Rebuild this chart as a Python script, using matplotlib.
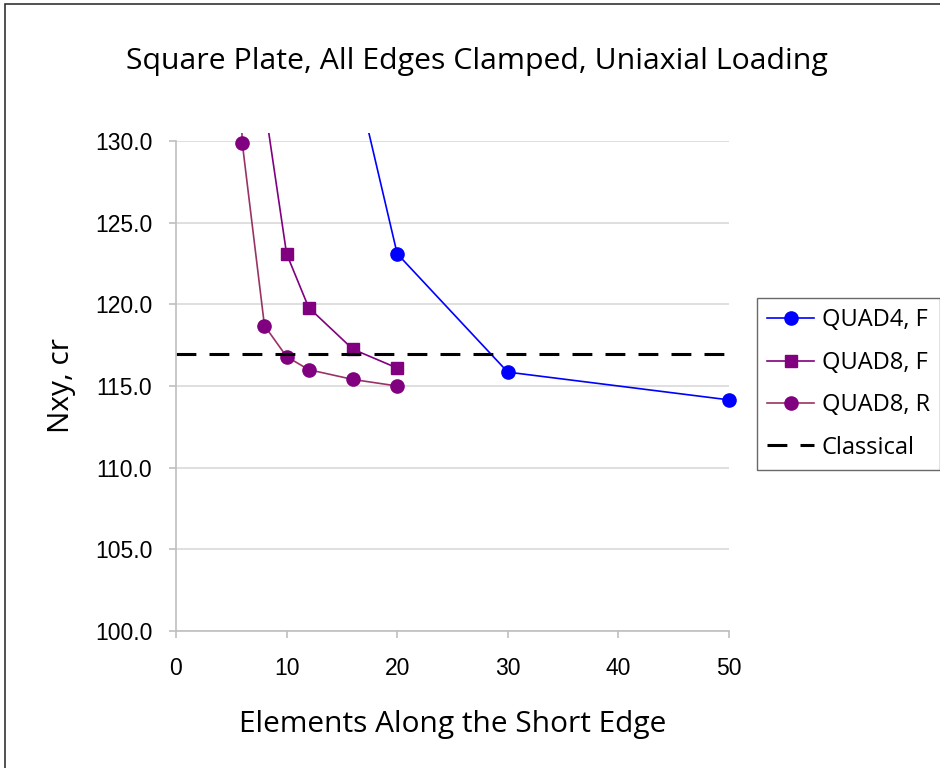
import matplotlib.pyplot as plt
from matplotlib.patches import Rectangle

# data
quad4_f_x = [10, 20, 30, 50]
quad4_f_y = [152.0, 123.1, 115.85, 114.15]

quad8_f_x = [6, 10, 12, 16, 20]
quad8_f_y = [141.5, 123.1, 119.8, 117.25, 116.1]

quad8_r_x = [4, 6, 8, 10, 12, 16, 20]
quad8_r_y = [165.0, 129.85, 118.7, 116.8, 116.0, 115.4, 115.0]

classical_x = [0, 50]
classical_y = [116.95, 116.95]

yticks = [100, 105, 110, 115, 120, 125, 130]
xticks = [0, 10, 20, 30, 40, 50]

fig = plt.figure(figsize=(9.4, 7.68), dpi=100)
ax = fig.add_axes([0.1872, 0.1784, 0.5883, 0.638])

# outer chart border (Excel chart area)
fig.patches.append(Rectangle((5/940, -0.01), 1.1, 1 - 4/768 + 0.01, transform=fig.transFigure,
                             fill=False, edgecolor='#333333', linewidth=1.2))

clip = Rectangle((-1, 99), 60, 31.5, transform=ax.transData)

l1, = ax.plot(quad4_f_x, quad4_f_y, color='#0000FF', lw=1.2, marker='o', ms=9.5,
              mfc='#0000FF', mec='#0000FF', label='QUAD4, F')
l2, = ax.plot(quad8_f_x, quad8_f_y, color='#800080', lw=1.2, marker='s', ms=8.5,
              mfc='#800080', mec='#800080', label='QUAD8, F')
l3, = ax.plot(quad8_r_x, quad8_r_y, color='#993366', lw=1.2, marker='o', ms=9.5,
              mfc='#800080', mec='#800080', label='QUAD8, R')
l4, = ax.plot(classical_x, classical_y, color='black', lw=2.2, dashes=(6.5, 4.3),
              label='Classical')
for ln in (l1, l2, l3, l4):
    ln.set_clip_path(clip)

ax.set_xlim(0, 50)
ax.set_ylim(100, 130)
ax.set_yticks(yticks)
ax.set_yticklabels([f'{v:.1f}' for v in yticks], fontfamily='Liberation Sans', fontsize=16.5)
ax.set_xticks(xticks)
ax.set_xticklabels([str(v) for v in xticks], fontfamily='Liberation Sans', fontsize=16.5)
ax.yaxis.grid(True, color='#D9D9D9', lw=1.2)
ax.set_axisbelow(True)

for s in ('top', 'right'):
    ax.spines[s].set_visible(False)
for s in ('left', 'bottom'):
    ax.spines[s].set_color('#BFBFBF')
    ax.spines[s].set_linewidth(1.2)
ax.tick_params(axis='both', color='#BFBFBF', length=5, width=1.2)
ax.tick_params(axis='y', pad=12)
ax.tick_params(axis='x', pad=14)

fig.text(477/940, 1 - 62/768, 'Square Plate, All Edges Clamped, Uniaxial Loading',
         fontfamily='Open Sans', fontsize=21.8, ha='center', va='center')
ax.set_xlabel('Elements Along the Short Edge', fontfamily='Open Sans', fontsize=21.5, labelpad=21)
ax.set_ylabel('Nxy, cr', fontfamily='Open Sans', fontsize=21.5, labelpad=14)

leg = ax.legend(loc='center left', bbox_to_anchor=(1.05, 0.504), frameon=True,
                prop={'family': 'Open Sans', 'size': 17}, handlelength=2.0,
                fancybox=False, edgecolor='#444444', borderpad=0.45, labelspacing=0.78,
                handletextpad=0.3, borderaxespad=0)
leg.get_frame().set_linewidth(1.0)

fig.savefig('out.png', dpi=100)
